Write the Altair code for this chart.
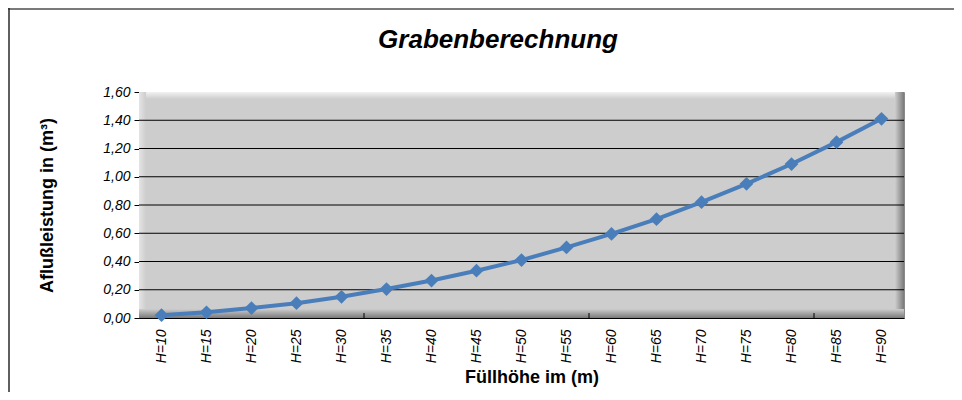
import altair as alt
import pandas as pd

categories = ["H=10", "H=15", "H=20", "H=25", "H=30", "H=35", "H=40", "H=45", "H=50",
              "H=55", "H=60", "H=65", "H=70", "H=75", "H=80", "H=85", "H=90"]
values = [0.02, 0.04, 0.07, 0.105, 0.15, 0.205, 0.265, 0.335, 0.41,
          0.50, 0.595, 0.70, 0.82, 0.95, 1.09, 1.245, 1.41]
y_ticks = [0.0, 0.2, 0.4, 0.6, 0.8, 1.0, 1.2, 1.4, 1.6]
x_tick_marks = ["H=30", "H=55", "H=80"]

W, H = 765, 226
FONT = "Liberation Sans"
LINE = "#4a7ebb"

df = pd.DataFrame({"cat": categories, "val": values})
grid_df = pd.DataFrame({"val": y_ticks[1:-1]})
tick_df = pd.DataFrame({"cat": x_tick_marks})
one = alt.Chart(pd.DataFrame({"k": [0]}))

xs = alt.Scale(domain=categories, type="point", padding=0.5)
ys = alt.Scale(domain=[0, 1.6], nice=False)

x_axis = alt.Axis(title="Füllhöhe im (m)", labelAngle=270, labelFont=FONT,
                  labelFontStyle="italic", labelFontSize=14, labelColor="#000",
                  labelAlign="right", labelBaseline="middle", labelPadding=11,
                  ticks=False, domain=True, domainColor="#000",
                  titleFont=FONT, titleFontSize=18, titleFontWeight="bold",
                  titleColor="#000", titlePadding=6, titleX=W / 2 + 10, grid=False)
y_axis = alt.Axis(title="Aflußleistung in (m³)", values=y_ticks,
                  labelExpr="replace(format(datum.value, '.2f'), '.', ',')",
                  labelFont=FONT, labelFontStyle="italic", labelFontSize=14,
                  labelColor="#000", labelPadding=4, tickSize=5, tickColor="#000",
                  domain=True, domainColor="#000", grid=False,
                  titleFont=FONT, titleFontSize=18, titleFontWeight="bold",
                  titleColor="#000", titlePadding=46)

X = alt.X("cat:N", scale=xs, axis=x_axis)
Y = alt.Y("val:Q", scale=ys, axis=y_axis)

# outer chart border (top and left edges; the others lie outside the picture)
border_top = one.mark_rule(color="#7a7a7a", strokeWidth=2, clip=False).encode(
    x=alt.value(-131), x2=alt.value(900), y=alt.value(-83)
)
border_left = one.mark_rule(color="#2a2a2a", strokeWidth=1.5, clip=False).encode(
    x=alt.value(-130), y=alt.value(-84), y2=alt.value(330)
)

def strip(x, x2, y, y2, c1, c2, horiz):
    grad = alt.Gradient(
        gradient="linear",
        stops=[alt.GradientStop(color=c1, offset=0), alt.GradientStop(color=c2, offset=1)],
        x1=0, x2=1 if horiz else 0, y1=0, y2=0 if horiz else 1,
    )
    return one.mark_rect(fill=grad).encode(
        x=alt.value(x), x2=alt.value(x2), y=alt.value(y), y2=alt.value(y2)
    )

bevel = [
    strip(0, W, 0, 7, "#f2f2f2", "#cdcdcd", False),
    strip(0, 7, 0, H, "#e4e4e4", "#cdcdcd", True),
    strip(W - 9, W, 0, H, "#cdcdcd", "#7a7a7a", True),
    strip(0, W, H - 9, H, "#cdcdcd", "#7a7a7a", False),
]

grid = alt.Chart(grid_df).mark_rule(color="#000000", strokeWidth=1).encode(y=Y)

xticks = alt.Chart(tick_df).mark_rule(color="#000000", strokeWidth=1, xOffset=W / 34).encode(
    x=X, y=alt.value(H - 5), y2=alt.value(H)
)

line = alt.Chart(df).mark_line(color=LINE, strokeWidth=4).encode(x=X, y=Y)

points = alt.Chart(df).mark_point(shape="diamond", filled=True, size=190, color=LINE,
                                  opacity=1).encode(x=X, y=Y)

title = one.mark_text(text="Grabenberechnung", font=FONT, fontSize=26, fontStyle="italic",
                      fontWeight="bold", color="#000", clip=False).encode(
    x=alt.value(359), y=alt.value(-52)
)

chart = alt.layer(border_top, border_left, *bevel, grid, xticks, line, points, title).properties(
    width=W, height=H,
    background="#ffffff",
    autosize=alt.AutoSizeParams(type="none"),
    padding={"left": 131, "top": 84, "right": 50, "bottom": 74},
).configure_view(fill="#cdcdcd", stroke="#8a8a8a", strokeWidth=1)

chart.save("out.html", embed_options={"renderer": "svg", "actions": False})
